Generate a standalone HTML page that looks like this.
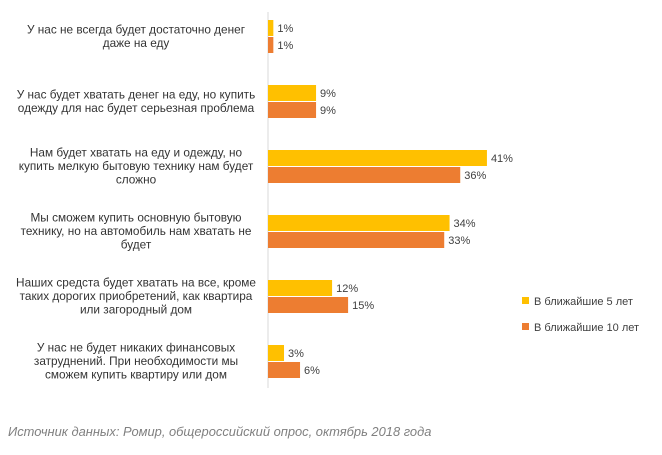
<!DOCTYPE html>
<html><head><meta charset="utf-8"><style>
body{margin:0;background:#fff;font-family:"Liberation Sans",sans-serif;}
svg text{font-family:"Liberation Sans",sans-serif;}
</style></head><body>
<svg id="c" width="662" height="450">
<line x1="268" y1="12" x2="268" y2="388" stroke="#d9d9d9"/>
<g id="bars"></g>
<g>
<rect x="522" y="297" width="7" height="7" fill="#FFC000"/>
<text x="534" y="305" font-size="11" fill="#404040">В ближайшие 5 лет</text>
<rect x="522" y="323" width="7" height="7" fill="#ED7D31"/>
<text x="534" y="331" font-size="11" fill="#404040">В ближайшие 10 лет</text>
</g>
<text x="8" y="436" font-size="12.9" font-style="italic" fill="#808080">Источник данных: Ромир, общероссийский опрос, октябрь 2018 года</text>
</svg>
<script>
const categories=[
["У нас не всегда будет достаточно денег","даже на еду"],
["У нас будет хватать денег на еду, но купить","одежду для нас будет серьезная проблема"],
["Нам будет хватать на еду и одежду, но","купить мелкую бытовую технику нам будет","сложно"],
["Мы сможем купить основную бытовую","технику, но на автомобиль нам хватать не","будет"],
["Наших средста будет хватать на все, кроме","таких дорогих приобретений, как квартира","или загородный дом"],
["У нас не будет никаких финансовых","затруднений. При необходимости мы","сможем купить квартиру или дом"]];
const series5=[1,9,41,34,12,3];
const series10=[1,9,36,33,15,6];
const ns="http://www.w3.org/2000/svg";
const g=document.getElementById('bars');
const x0=268, scale=5.34;
const xs=v=>v*scale;
const yTop=i=>20+i*65;
function mk(t,a){const e=document.createElementNS(ns,t);for(const k in a)e.setAttribute(k,a[k]);g.appendChild(e);return e;}
categories.forEach((lines,i)=>{
 const y=yTop(i);
 [[series5,'#FFC000',0,'5'],[series10,'#ED7D31',17,'10']].forEach(([s,c,off,nm])=>{
  const r=mk('rect',{x:x0,y:y+off,width:xs(s[i]),height:16,fill:c});
  
  
  const t=mk('text',{x:x0+xs(s[i])+4,y:y+off+12,'font-size':11,fill:'#404040'});
  t.textContent=s[i]+'%';
  
  
 });
 const cy=y+16, n=lines.length, lh=13.5;
 lines.forEach((l,j)=>{
  const t=mk('text',{x:136,y:cy-(n-1)*lh/2+j*lh+4,'font-size':11.8,fill:'#333','text-anchor':'middle'});
  t.textContent=l;
  
  
 });
});
</script>
</body></html>
